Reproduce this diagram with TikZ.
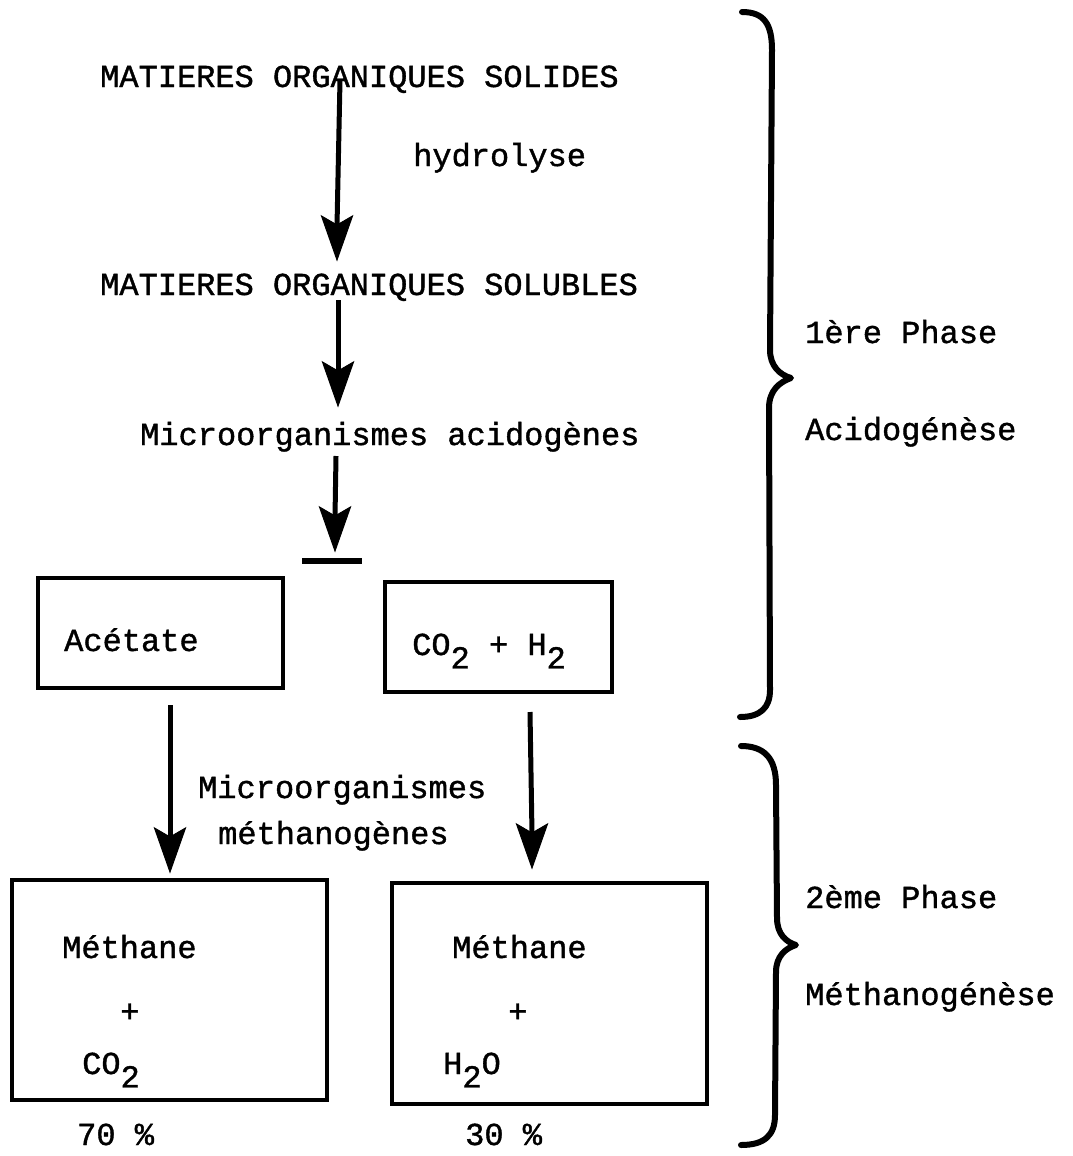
\documentclass[tikz,border=0pt]{standalone}
\usepackage{fontspec}
\newfontfamily\tw[FakeBold=1.2]{Liberation Mono}
\usetikzlibrary{calc}
\tikzset{
  txt/.style={font=\tw\fontsize{32}{36}\selectfont, anchor=base west, inner sep=0pt},
  shaft/.style={line width=5pt},
  head/.style={fill=black, draw=black, line width=1pt, line join=miter},
  box/.style={draw, line width=3.5pt, inner sep=0pt},
  brace/.style={line width=6pt, line cap=round, line join=round},
  barline/.style={line width=6pt}
}
\newcommand{\sbs}[1]{\raisebox{-0.42em}{#1}}
% down arrow from #1 to tip #2 with a filled dart head
\newcommand{\flowarrow}[2]{%
  \draw[shaft] (#1) -- ($(#2)+(0,34)$);
  \filldraw[head] (#2) -- ++(-15.5,44) -- ++(15.5,-9) -- ++(15.5,9) -- cycle;}
\begin{document}
\begin{tikzpicture}[x=1pt,y=1pt]
\useasboundingbox (0,0) rectangle (1073,-1156);
% texts
\node[txt] (solides) at (100,-87) {MATIERES ORGANIQUES SOLIDES};
\node[txt] (hydro) at (413,-166) {hydrolyse};
\node[txt] (solubles) at (100,-295) {MATIERES ORGANIQUES SOLUBLES};
\node[txt] (acido) at (140,-445) {Microorganismes acidog\`enes};
\node[txt] (micro2) at (198,-798) {Microorganismes};
\node[txt] (metha) at (218,-844) {m\'ethanog\`enes};
\node[txt] (p1) at (805,-343) {1\`ere Phase};
\node[txt] (p1b) at (805,-440) {Acidog\'en\`ese};
\node[txt] (p2) at (805,-908) {2\`eme Phase};
\node[txt] (p2b) at (805,-1005) {M\'ethanog\'en\`ese};
% boxes
\node[box, minimum width=245pt, minimum height=110pt] (acet) at (160.5,-633) {};
\node[box, minimum width=227pt, minimum height=110pt] (cohh) at (498.5,-637) {};
\node[box, minimum width=315pt, minimum height=220pt] (m1) at (169.5,-990) {};
\node[box, minimum width=315pt, minimum height=221pt] (m2) at (549.5,-993.5) {};
\node[txt] (acett) at (64,-651) {Ac\'etate};
\node[txt] (cohht) at (412,-655) {CO\sbs{2} + H\sbs{2}};
\node[txt] (m1a) at (62,-958) {M\'ethane};
\node[txt] (m1b) at (120,-1022) {+};
\node[txt] (m1c) at (82,-1074) {CO\sbs{2}};
\node[txt] (m2a) at (452,-958) {M\'ethane};
\node[txt] (m2b) at (508,-1022) {+};
\node[txt] (m2c) at (443,-1074) {H\sbs{2}O};
\node[txt] (pc70) at (77,-1145) {70 \%};
\node[txt] (pc30) at (465,-1145) {30 \%};
% arrow ends
\coordinate (a1s) at (340,-80);  \coordinate (a1e) at (337,-260);
\coordinate (a2s) at (338,-300); \coordinate (a2e) at (338,-406);
\coordinate (a3s) at (336,-456); \coordinate (a3e) at (335,-551);
\coordinate (b1) at (302,-561);  \coordinate (b2) at (362,-561);
\coordinate (a4s) at (170,-705); \coordinate (a4e) at (170,-872);
\coordinate (a5s) at (530,-712); \coordinate (a5e) at (532,-868);
\flowarrow{a1s}{a1e}
\flowarrow{a2s}{a2e}
\flowarrow{a3s}{a3e}
\draw[barline] (b1) -- (b2);
\flowarrow{a4s}{a4e}
\flowarrow{a5s}{a5e}
% braces
\draw[brace] (742,-12) .. controls (764,-12) and (772,-24) .. (772,-50) -- (770,-350)
  .. controls (770,-366) and (780,-375) .. (791,-378)
  .. controls (780,-382) and (769,-390) .. (769,-408) -- (770,-690)
  .. controls (770,-708) and (760,-717) .. (740,-717);
\draw[brace] (741,-746) .. controls (764,-746) and (776,-758) .. (776,-785) -- (777,-918)
  .. controls (777,-934) and (786,-942) .. (796,-945)
  .. controls (786,-948) and (776,-956) .. (776,-972) -- (775,-1115)
  .. controls (775,-1135) and (765,-1145) .. (741,-1145);
\end{tikzpicture}
\end{document}
